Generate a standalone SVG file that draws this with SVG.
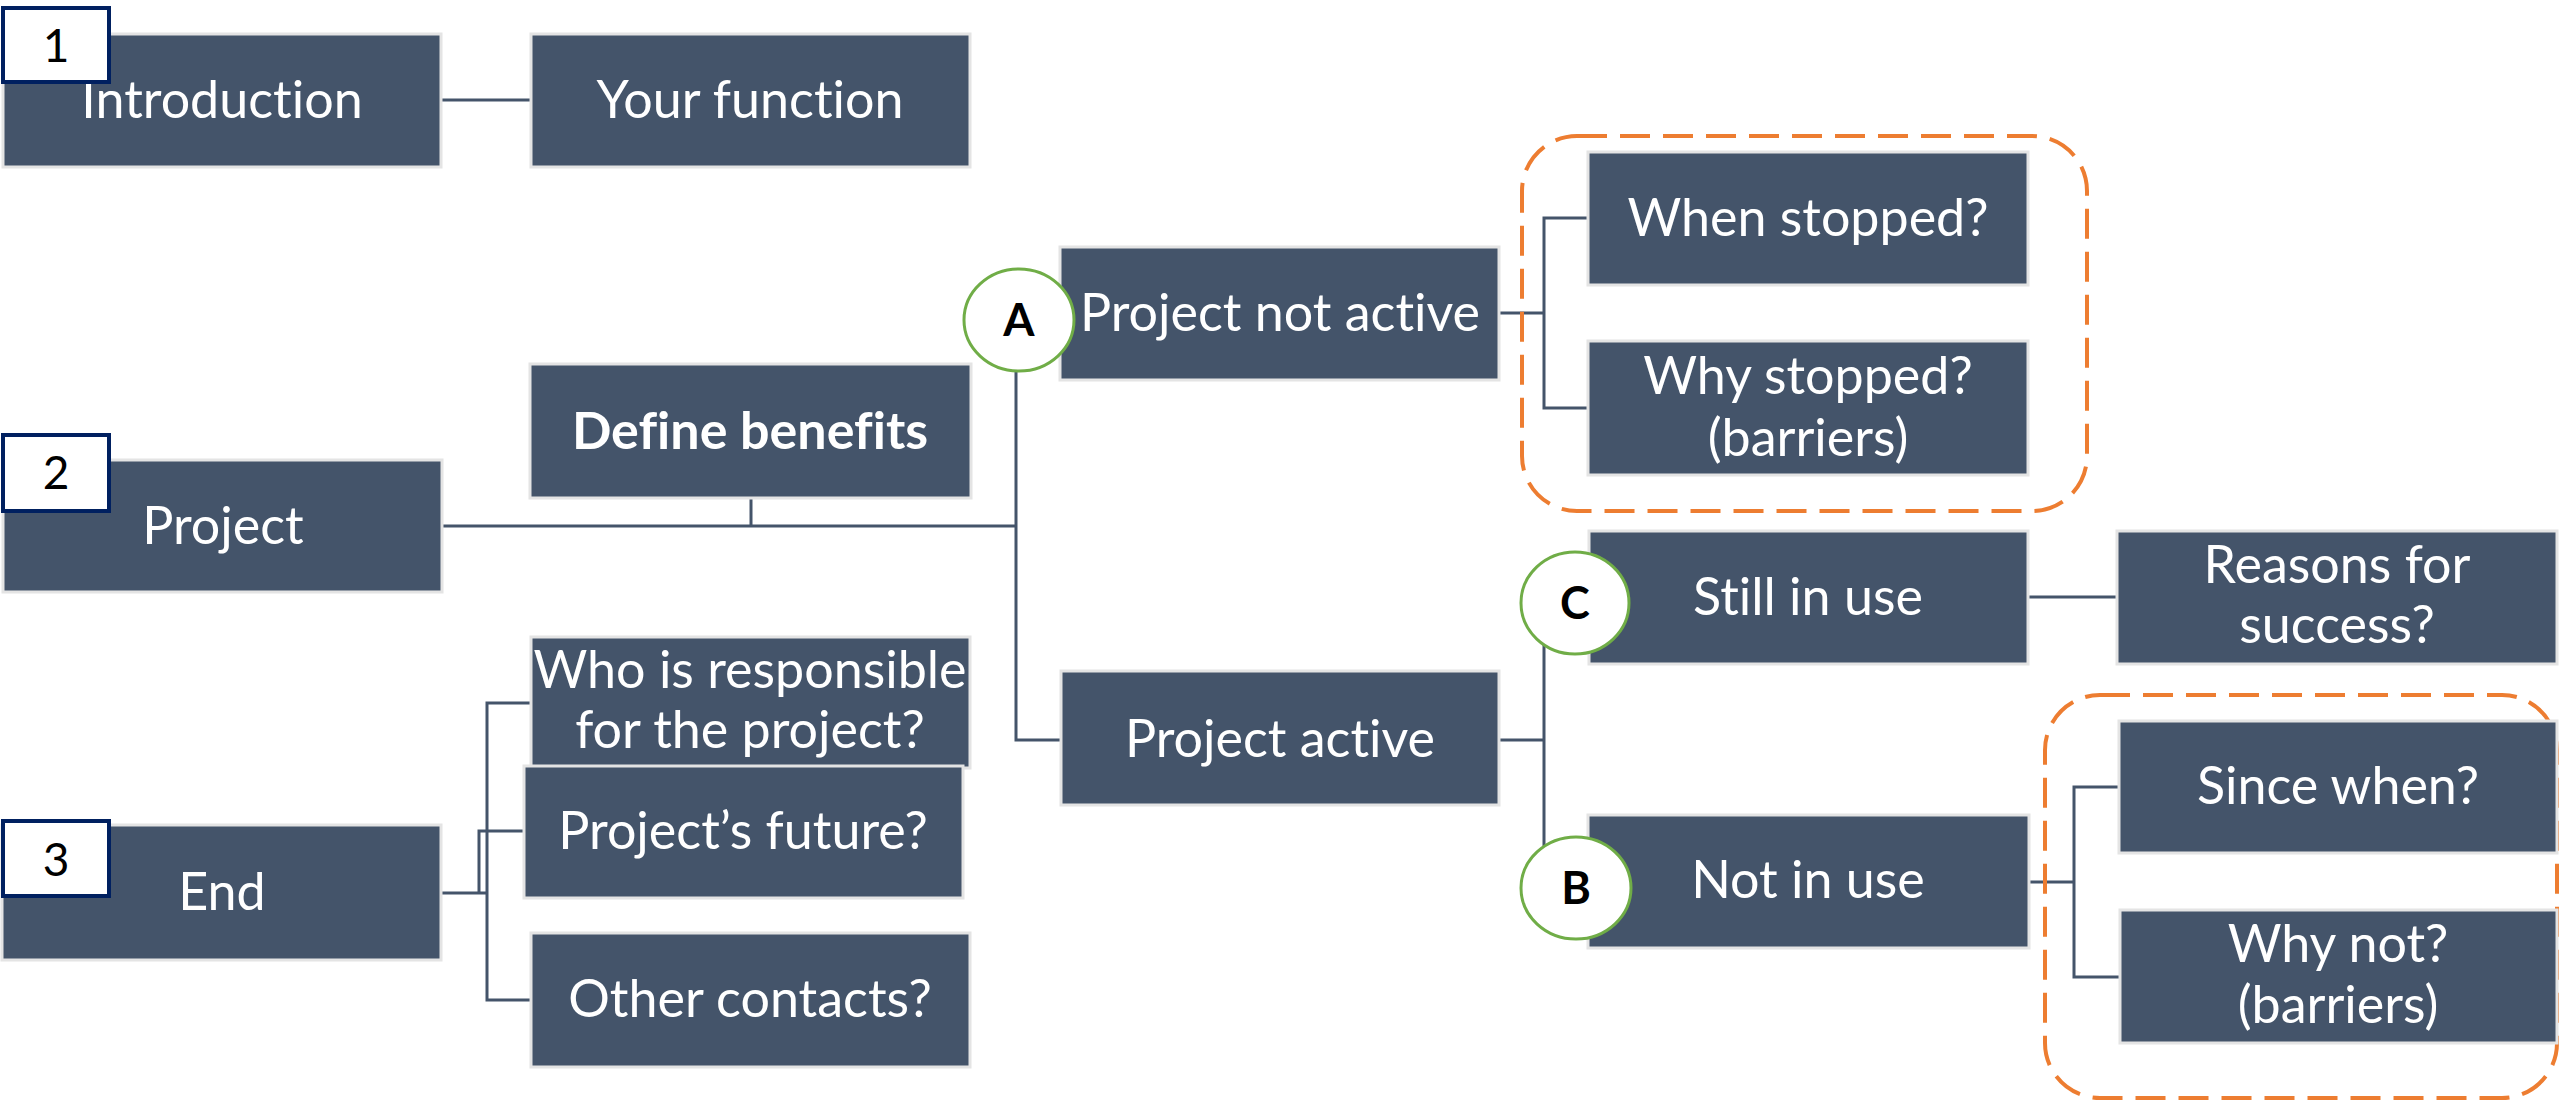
<svg xmlns="http://www.w3.org/2000/svg" width="2560" height="1104" viewBox="0 0 2560 1104">
<style>
.box{fill:#44546a;stroke:#e4e4e4;stroke-width:3}
.t{fill:#ffffff;font-family:Lato,"Liberation Sans",sans-serif;font-size:52px;text-anchor:middle;font-variant-ligatures:none}
.b{font-weight:bold}
.num{fill:#ffffff;stroke:#002060;stroke-width:4}
.nt{fill:#000000;font-family:Lato,"Liberation Sans",sans-serif;font-size:46px;text-anchor:middle}
.circ{fill:#ffffff;stroke:#70ad47;stroke-width:3}
.ct{fill:#000000;font-family:Lato,"Liberation Sans",sans-serif;font-size:45px;font-weight:bold;text-anchor:middle}
.ln{fill:none;stroke:#44546a;stroke-width:3}
.grp{fill:none;stroke:#ed7d31;stroke-width:4;stroke-dasharray:30 13}
</style>
<rect width="2560" height="1104" fill="#ffffff"/>
<g id="connectors">
<path class="ln" d="M441 100 H531"/>
<path class="ln" d="M442 526 H1016"/>
<path class="ln" d="M751 498 V526"/>
<path class="ln" d="M1016 313 V740 H1061"/>
<path class="ln" d="M1016 313 H1060"/>
<path class="ln" d="M1499 313 H1544"/>
<path class="ln" d="M1588 218 H1544 V408 H1588"/>
<path class="ln" d="M1499 740 H1544"/>
<path class="ln" d="M1589 597 H1544 V882 H1588"/>
<path class="ln" d="M2028 597 H2117"/>
<path class="ln" d="M2029 882 H2074"/>
<path class="ln" d="M2119 787 H2074 V977 H2120"/>
<path class="ln" d="M441 893 H487"/>
<path class="ln" d="M531 703 H487 V1000 H531"/>
<path class="ln" d="M479 893 V831 H524"/>
</g>
<g id="group-not-active"><rect class="grp" x="1522" y="136" width="565" height="375" rx="55"/></g>
<g id="group-not-in-use"><rect class="grp" x="2045" y="695" width="512" height="403" rx="55"/></g>
<g id="introduction"><rect class="box" x="3" y="34" width="438" height="133"/><text class="t" x="222" y="118">Introduction</text></g>
<g id="your-function"><rect class="box" x="531" y="34" width="439" height="133"/><text class="t" x="750" y="118">Your function</text></g>
<g id="project"><rect class="box" x="3" y="460" width="439" height="132"/><text class="t" x="223" y="544">Project</text></g>
<g id="define-benefits"><rect class="box" x="530" y="364" width="441" height="134"/><text class="t b" x="750" y="449">Define benefits</text></g>
<g id="project-not-active"><rect class="box" x="1060" y="247" width="439" height="133"/><text class="t" x="1280" y="331">Project not active</text></g>
<g id="when-stopped"><rect class="box" x="1588" y="152" width="440" height="133"/><text class="t" x="1808" y="236">When stopped?</text></g>
<g id="why-stopped"><rect class="box" x="1588" y="341" width="440" height="134"/><text class="t" x="1808" y="394">Why stopped?</text><text class="t" x="1808" y="456">(barriers)</text></g>
<g id="project-active"><rect class="box" x="1061" y="671" width="438" height="134"/><text class="t" x="1280" y="757">Project active</text></g>
<g id="still-in-use"><rect class="box" x="1589" y="531" width="439" height="133"/><text class="t" x="1808" y="615">Still in use</text></g>
<g id="reasons-for-success"><rect class="box" x="2117" y="531" width="440" height="133"/><text class="t" x="2337" y="583">Reasons for</text><text class="t" x="2337" y="643">success?</text></g>
<g id="not-in-use"><rect class="box" x="1588" y="815" width="441" height="133"/><text class="t" x="1808" y="898">Not in use</text></g>
<g id="since-when"><rect class="box" x="2119" y="721" width="438" height="132"/><text class="t" x="2338" y="804">Since when?</text></g>
<g id="why-not"><rect class="box" x="2120" y="910" width="437" height="133"/><text class="t" x="2338" y="962">Why not?</text><text class="t" x="2338" y="1023">(barriers)</text></g>
<g id="end"><rect class="box" x="2" y="825" width="439" height="135"/><text class="t" x="222" y="910">End</text></g>
<g id="who-responsible"><rect class="box" x="531" y="637" width="439" height="131"/><text class="t" x="750" y="688">Who is responsible</text><text class="t" x="750" y="748">for the project?</text></g>
<g id="projects-future"><rect class="box" x="524" y="766" width="439" height="132"/><text class="t" x="743" y="849">Project’s future?</text></g>
<g id="other-contacts"><rect class="box" x="531" y="933" width="439" height="134"/><text class="t" x="750" y="1017">Other contacts?</text></g>
<g id="num-1"><rect class="num" x="3" y="8" width="106" height="74"/><text class="nt" x="56" y="62">1</text></g>
<g id="num-2"><rect class="num" x="3" y="435" width="106" height="76"/><text class="nt" x="56" y="489">2</text></g>
<g id="num-3"><rect class="num" x="3" y="821" width="106" height="75"/><text class="nt" x="56" y="876">3</text></g>
<g id="circle-a"><ellipse class="circ" cx="1019" cy="320" rx="55" ry="51"/><text class="ct" x="1019" y="336">A</text></g>
<g id="circle-c"><ellipse class="circ" cx="1575" cy="603" rx="54" ry="51"/><text class="ct" x="1575" y="619">C</text></g>
<g id="circle-b"><ellipse class="circ" cx="1576" cy="888" rx="55" ry="51"/><text class="ct" x="1576" y="904">B</text></g>
</svg>
